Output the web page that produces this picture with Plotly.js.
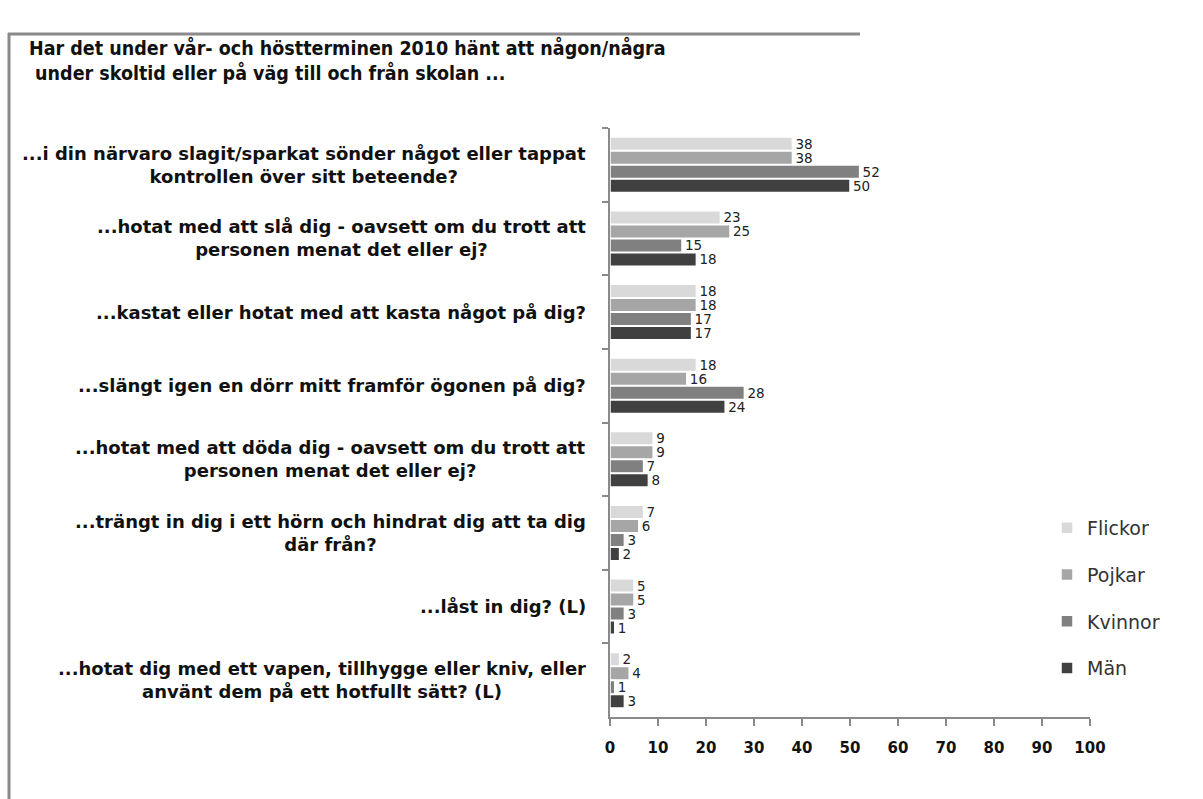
<!DOCTYPE html>
<html>
<head>
<meta charset="utf-8">
<script src="https://cdn.plot.ly/plotly-3.0.1.min.js"></script>
<style>html,body{margin:0;padding:0;background:#fff;}#chart{width:1203px;height:799px;}</style>
</head>
<body>
<div id="chart"></div>
<script>
const categories = [
  "...i din närvaro slagit/sparkat sönder något eller tappat<br>kontrollen över sitt beteende?",
  "...hotat med att slå dig - oavsett om du trott att<br>personen menat det eller ej?",
  "...kastat eller hotat med att kasta något på dig?",
  "...slängt igen en dörr mitt framför ögonen på dig?",
  "...hotat med att döda dig - oavsett om du trott att<br>personen menat det eller ej?",
  "...trängt in dig i ett hörn och hindrat dig att ta dig<br>där från?",
  "...låst in dig? (L)",
  "...hotat dig med ett vapen, tillhygge eller kniv, eller<br>använt dem på ett hotfullt sätt? (L)"
];
const seriesNames = ["Flickor", "Pojkar", "Kvinnor", "Män"];
const flickor = [38, 23, 18, 18, 9, 7, 5, 2];
const pojkar  = [38, 25, 18, 16, 9, 6, 5, 4];
const kvinnor = [52, 15, 17, 28, 7, 3, 3, 1];
const man     = [50, 18, 17, 24, 8, 2, 1, 3];
const xTicks = [0, 10, 20, 30, 40, 50, 60, 70, 80, 90, 100];
const titleText = "Har det under vår- och höstterminen 2010 hänt att någon/några<br>&nbsp;under skoltid eller på väg till och från skolan ...";

const colors = ["#d9d9d9", "#a6a6a6", "#808080", "#404040"];
const seriesValues = [flickor, pojkar, kvinnor, man];
const ids = categories.map((c, i) => "c" + i);

const traces = seriesValues.map((vals, k) => ({
  type: "bar",
  orientation: "h",
  name: seriesNames[k],
  x: vals,
  y: ids,
  text: vals.map(String),
  textposition: "outside",
  constraintext: "none",
  cliponaxis: false,
  textfont: {family: "DejaVu Sans, sans-serif", size: 13.5, color: "#222"},
  marker: {color: colors[k], line: {color: "#ffffff", width: 1.5}},
  legendgroup: "g" + k,
  hoverinfo: "x+name"
}));

const L = 610, R = 1090, T = 128, B = 717;
const px = v => (v - L) / (R - L);
const py = v => (B - v) / (B - T);

const annotations = categories.map((c, i) => ({
  xref: "paper", yref: "y",
  x: 0, y: ids[i],
  xanchor: "right", yanchor: "middle",
  xshift: -22,
  align: "center",
  text: c,
  showarrow: false,
  font: {family: "DejaVu Sans, sans-serif", size: 18, color: "#111", weight: "bold"}
}));

annotations.push({
  xref: "paper", yref: "paper",
  x: px(27), y: py(34),
  xanchor: "left", yanchor: "top",
  align: "left",
  text: titleText,
  showarrow: false,
  font: {family: "DejaVu Sans Condensed, sans-serif", size: 19.5, color: "#111", weight: "bold"}
});

const layout = {
  width: 1203, height: 799,
  paper_bgcolor: "#fff", plot_bgcolor: "#fff",
  margin: {l: L, r: 1203 - R, t: T, b: 799 - B, pad: 0},
  barmode: "group",
  bargap: 0.24,
  bargroupgap: 0.04,
  showlegend: true,
  legend: {
    x: px(1047), y: py(509), xanchor: "left", yanchor: "top",
    font: {family: "DejaVu Sans, sans-serif", size: 19, color: "#333"},
    tracegroupgap: 19,
    traceorder: "grouped",
    bgcolor: "rgba(0,0,0,0)"
  },
  xaxis: {
    range: [0, 100],
    tickvals: xTicks,
    ticktext: xTicks.map(String),
    ticks: "outside", ticklen: 7, tickwidth: 2, tickcolor: "#8a8a8a",
    showline: true, linecolor: "#8a8a8a", linewidth: 2,
    showgrid: false, zeroline: false,
    ticklabelstandoff: 9,
    tickfont: {family: "DejaVu Sans, sans-serif", size: 15, color: "#111", weight: "bold"},
    fixedrange: true
  },
  yaxis: {
    type: "category",
    autorange: "reversed",
    showticklabels: false,
    ticks: "outside", ticklen: 6, tickwidth: 2, tickcolor: "#8a8a8a",
    tickson: "boundaries",
    showline: true, linecolor: "#8a8a8a", linewidth: 2,
    showgrid: false, zeroline: false,
    fixedrange: true
  },
  annotations: annotations,
  shapes: [
    {type: "line", xref: "paper", yref: "paper", x0: px(9), x1: px(9), y0: py(33), y1: py(805), line: {color: "#8a8a8a", width: 3}},
    {type: "line", xref: "paper", yref: "paper", x0: px(8), x1: px(860), y0: py(34), y1: py(34), line: {color: "#8a8a8a", width: 3}}
  ]
};

Plotly.newPlot("chart", traces, layout, {displayModeBar: false, staticPlot: true});
</script>
</body>
</html>
